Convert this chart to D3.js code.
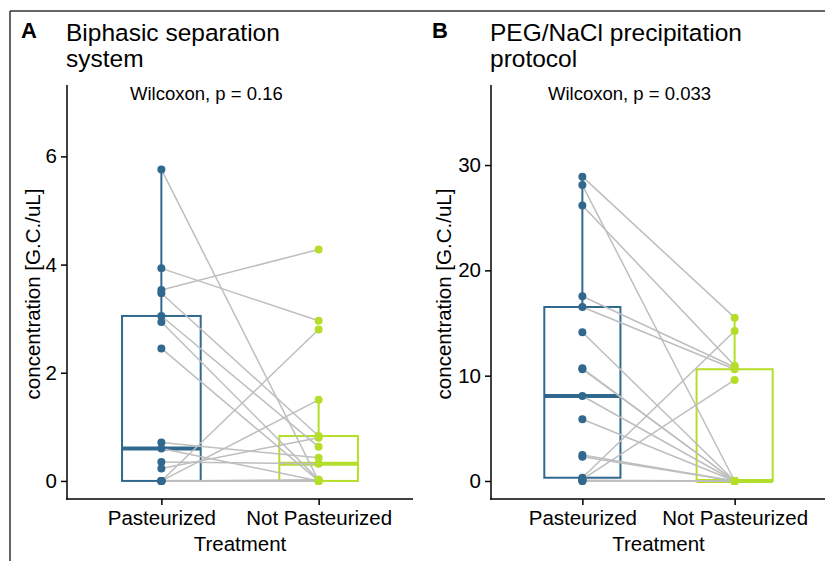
<!DOCTYPE html>
<html>
<head>
<meta charset="utf-8">
<script src="https://cdn.jsdelivr.net/npm/d3@7"></script>
<style>
  html, body { margin: 0; padding: 0; background: #fff; }
  svg text { font-family: "Liberation Sans", Arial, Helvetica, sans-serif; }
</style>
</head>
<body>
<svg id="chart" width="825" height="561"></svg>
<script>
// ---- data ----
const categories = ["Pasteurized", "Not Pasteurized"];
const seriesColors = ["#31688E", "#B5DE2B"];

// Panel A: Biphasic separation system (paired by index)
const pasteurizedA    = [5.76, 3.93, 3.53, 3.47, 3.05, 2.94, 2.45, 0.71, 0.60, 0.35, 0.23, 0, 0, 0, 0, 0, 0];
const notPasteurizedA = [0, 2.96, 4.28, 0.83, 0.63, 0.02, 0, 0.43, 0, 0.32, 0.80, 2.80, 1.50, 0, 0.02, 0, 0];
const ticksA = [0, 2, 4, 6];

// Panel B: PEG/NaCl precipitation protocol (paired by index)
const pasteurizedB    = [28.9, 28.1, 26.15, 17.54, 16.52, 14.12, 10.70, 10.61, 8.07, 5.86, 2.47, 2.31, 0.31, 0.16, 0.08, 0, 0];
const notPasteurizedB = [15.51, 0, 10.95, 10.80, 10.61, 0, 0, 0, 0, 0, 0, 0, 14.24, 9.59, 0, 0, 0];
const ticksB = [0, 10, 20, 30];

const panelLetters = ["A", "B"];
const titlesA = ["Biphasic separation", "system"];
const titlesB = ["PEG/NaCl precipitation", "protocol"];
const pLabels = ["Wilcoxon, p = 0.16", "Wilcoxon, p = 0.033"];
const xTitle = "Treatment";
const yTitle = "concentration [G.C./uL]";

// ---- drawing ----
const svg = d3.select("#chart");
const FONT_AXIS = 20.5;

// outer frame (cropped border)
svg.append("line").attr("x1", 10).attr("y1", 11).attr("x2", 825).attr("y2", 11)
  .attr("stroke", "#333").attr("stroke-width", 1.5);
svg.append("line").attr("x1", 10).attr("y1", 11).attr("x2", 10).attr("y2", 561)
  .attr("stroke", "#333").attr("stroke-width", 1.5);

function boxStats(vals) {
  const s = vals.slice().sort(d3.ascending);
  const q1 = d3.quantile(s, 0.25), med = d3.quantile(s, 0.5), q3 = d3.quantile(s, 0.75);
  const iqr = q3 - q1;
  const hi = d3.max(s.filter(v => v <= q3 + 1.5 * iqr));
  const lo = d3.min(s.filter(v => v >= q1 - 1.5 * iqr));
  return {q1, med, q3, hi, lo};
}

function drawPanel(cfg) {
  const g = svg.append("g");
  const x = d3.scalePoint().domain(categories).range([cfg.left, cfg.right]).padding(0.6);
  const y = d3.scaleLinear().domain(cfg.yDomain).range([cfg.bottom, cfg.top]);
  const step = x.step();
  const boxW = step * 0.5;
  const groups = [cfg.p, cfg.np];

  // boxplots
  groups.forEach((vals, i) => {
    const st = boxStats(vals);
    const cx = x(categories[i]);
    const col = seriesColors[i];
    g.append("line").attr("x1", cx).attr("x2", cx).attr("y1", y(st.q3)).attr("y2", y(st.hi))
      .attr("stroke", col).attr("stroke-width", 2);
    g.append("line").attr("x1", cx).attr("x2", cx).attr("y1", y(st.q1)).attr("y2", y(st.lo))
      .attr("stroke", col).attr("stroke-width", 2);
    g.append("rect").attr("x", cx - boxW / 2).attr("width", boxW)
      .attr("y", y(st.q3)).attr("height", Math.max(0, y(st.q1) - y(st.q3)))
      .attr("fill", "#fff").attr("stroke", col).attr("stroke-width", 2);
    g.append("line").attr("x1", cx - boxW / 2).attr("x2", cx + boxW / 2)
      .attr("y1", y(st.med)).attr("y2", y(st.med))
      .attr("stroke", col).attr("stroke-width", 4);
  });

  // paired lines
  cfg.p.forEach((v, i) => {
    g.append("line")
      .attr("x1", x(categories[0])).attr("y1", y(v))
      .attr("x2", x(categories[1])).attr("y2", y(cfg.np[i]))
      .attr("stroke", "#BEBEBE").attr("stroke-width", 1.5);
  });

  // points
  groups.forEach((vals, i) => {
    g.selectAll(null).data(vals).enter().append("circle")
      .attr("cx", x(categories[i])).attr("cy", d => y(d)).attr("r", 4)
      .attr("fill", seriesColors[i]);
  });

  // axes
  const yAxis = d3.axisLeft(y).tickValues(cfg.ticks).tickSize(6).tickPadding(4).tickFormat(d3.format("d"));
  const ya = g.append("g").attr("transform", `translate(${cfg.left},0)`).call(yAxis);
  ya.select(".domain").remove();
  ya.append("line").attr("x1", 0).attr("x2", 0).attr("y1", cfg.top).attr("y2", cfg.bottom + 0.75)
    .attr("stroke", "#000").attr("stroke-width", 1.5);
  ya.selectAll(".tick line").attr("stroke", "#000").attr("stroke-width", 1.5);
  ya.selectAll(".tick text").attr("font-size", FONT_AXIS).attr("fill", "#000")
    .attr("font-family", "Liberation Sans, Arial, sans-serif");

  const xAxis = d3.axisBottom(x).tickSize(6).tickPadding(5);
  const xa = g.append("g").attr("transform", `translate(0,${cfg.bottom})`).call(xAxis);
  xa.select(".domain").remove();
  xa.append("line").attr("x1", cfg.left - 0.75).attr("x2", cfg.right).attr("y1", 0).attr("y2", 0)
    .attr("stroke", "#000").attr("stroke-width", 1.5);
  xa.selectAll(".tick line").attr("stroke", "#000").attr("stroke-width", 1.5);
  xa.selectAll(".tick text").attr("font-size", FONT_AXIS).attr("fill", "#000")
    .attr("font-family", "Liberation Sans, Arial, sans-serif");

  // axis titles
  g.append("text").attr("x", (cfg.left + cfg.right) / 2).attr("y", 551)
    .attr("text-anchor", "middle").attr("font-size", FONT_AXIS).text(xTitle);
  g.append("text").attr("transform", `translate(${cfg.yTitleX},${(cfg.top + cfg.bottom) / 2 + 2}) rotate(-90)`)
    .attr("text-anchor", "middle").attr("font-size", FONT_AXIS).text(yTitle);

  // panel letter and title
  g.append("text").attr("x", cfg.letterX).attr("y", 38).attr("font-size", 22)
    .attr("font-weight", "bold").text(cfg.letter);
  cfg.title.forEach((t, i) => {
    g.append("text").attr("x", cfg.left - 1).attr("y", 41 + i * 26).attr("font-size", 24.5).text(t);
  });

  // test label
  g.append("text").attr("x", cfg.pX).attr("y", 100).attr("font-size", 18.5).text(cfg.pLabel);
}

drawPanel({
  left: 67, right: 413, top: 85, bottom: 499,
  yDomain: [-0.334, 7.32], ticks: ticksA,
  p: pasteurizedA, np: notPasteurizedA,
  letter: panelLetters[0], letterX: 21, title: titlesA, yTitleX: 40,
  pLabel: pLabels[0], pX: 130
});

drawPanel({
  left: 491, right: 826, top: 85, bottom: 499,
  yDomain: [-1.71, 37.6], ticks: ticksB,
  p: pasteurizedB, np: notPasteurizedB,
  letter: panelLetters[1], letterX: 432, title: titlesB, yTitleX: 451,
  pLabel: pLabels[1], pX: 548
});
</script>
</body>
</html>
